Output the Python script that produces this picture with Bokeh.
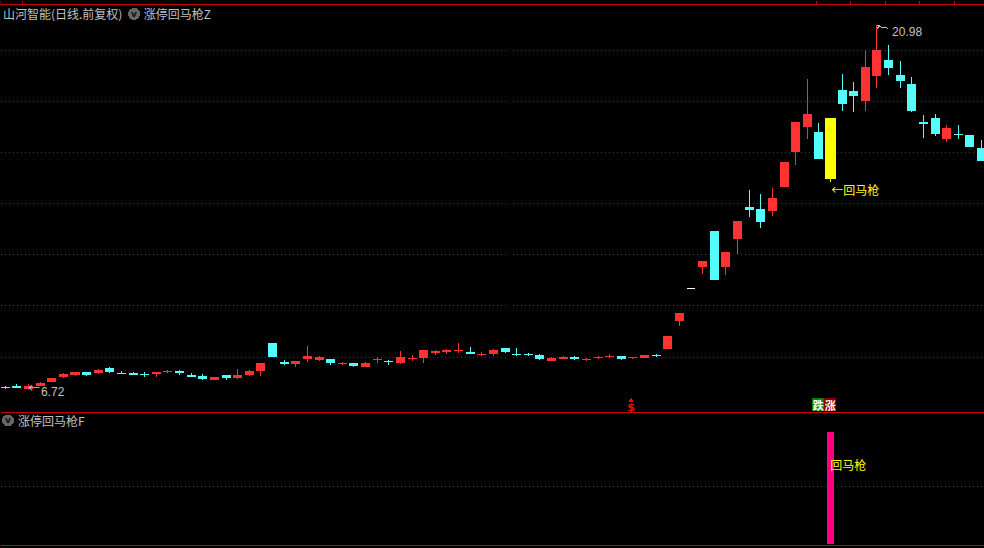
from bokeh.plotting import figure
from bokeh.layouts import column
from bokeh.models import Range1d, FixedTicker, ColumnDataSource
from bokeh.core.properties import value
from bokeh.embed import file_html
from bokeh.resources import INLINE

open_ = [6.83,6.87,6.75,6.87,7.02,7.22,7.30,7.41,7.37,7.57,7.37,7.37,7.34,7.34,7.41,7.45,7.30,7.26,7.10,7.30,
         7.18,7.30,7.45,8.55,7.80,7.73,7.92,7.88,7.92,7.73,7.77,7.61,7.88,7.84,7.77,7.92,7.96,8.16,8.20,8.23,
         8.20,8.08,8.12,8.35,8.12,8.12,8.08,7.84,7.92,8.00,7.88,7.96,8.00,8.04,7.96,7.96,8.08,8.31,9.41,10.70,
         11.52,12.93,11.52,12.61,13.86,13.79,13.71,14.64,16.01,16.99,16.79,17.34,18.44,18.40,18.01,18.98,19.61,19.02,18.67,17.19,
         17.34,16.52,16.72,16.68,16.17]
high = [6.87,6.94,6.94,7.02,7.18,7.37,7.41,7.41,7.53,7.61,7.45,7.41,7.41,7.41,7.49,7.49,7.37,7.34,7.22,7.30,
        7.53,7.49,7.77,8.55,7.88,7.84,8.43,8.04,7.92,7.80,7.77,7.80,8.00,7.88,8.23,8.08,8.27,8.27,8.31,8.55,
        8.39,8.20,8.31,8.35,8.35,8.16,8.12,8.00,8.04,8.04,7.96,8.04,8.12,8.04,8.00,8.08,8.12,8.82,9.72,10.70,
        11.75,12.93,12.10,13.32,14.53,14.37,14.61,15.62,17.19,18.87,17.15,17.34,19.06,18.75,20.00,20.98,20.20,19.57,18.94,17.46,
        17.50,17.07,17.07,16.68,16.48]
low = [6.75,6.79,6.72,6.87,7.02,7.18,7.26,7.26,7.34,7.37,7.34,7.30,7.22,7.22,7.37,7.30,7.22,7.10,7.10,7.10,
       7.14,7.26,7.26,8.00,7.69,7.61,7.80,7.84,7.69,7.69,7.61,7.61,7.77,7.69,7.73,7.84,7.77,8.08,8.12,8.16,
       8.12,8.04,8.04,8.16,8.04,8.04,7.88,7.84,7.92,7.88,7.84,7.92,7.96,7.88,7.92,7.96,8.00,8.31,9.21,10.70,
       11.24,11.01,11.21,12.03,13.47,13.04,13.51,14.64,15.50,16.52,15.74,14.84,17.62,17.58,17.62,18.51,19.02,18.51,17.58,16.56,
       16.64,16.40,16.52,16.21,15.66]
close = [6.79,6.79,6.87,6.98,7.18,7.34,7.41,7.30,7.49,7.41,7.34,7.30,7.30,7.41,7.45,7.37,7.22,7.14,7.22,7.18,
         7.30,7.45,7.77,8.00,7.73,7.84,8.04,8.00,7.77,7.77,7.65,7.77,7.92,7.80,8.00,7.96,8.27,8.23,8.27,8.27,
         8.12,8.12,8.27,8.20,8.10,8.08,7.92,7.96,8.00,7.92,7.92,8.00,8.04,7.92,8.00,8.08,8.04,8.82,9.72,10.70,
         11.75,11.01,12.10,13.32,13.75,13.28,14.21,15.62,17.19,17.50,15.74,14.96,17.89,18.20,19.34,20.00,19.30,18.79,17.62,17.11,
         16.72,16.95,16.68,16.21,15.66]
signal_index = 71
limit_up_index = 54
low_label = "6.72"
high_label = "20.98"
indicator_value = 1.0
price_ticks = [8, 10, 12, 14, 16, 18, 20]
date_ticks = [-0.4, 1.5, 69.77, 72.7, 75.7, 78.7, 81.7]

BLACK = "#000000"; RED = "#FF3232"; CYAN = "#54FCFC"; YELLOW = "#FFFF00"
RULE = "#C80000"; DOT = "#A00000"; PINK = "#FF0080"; GREY = "#C0C0C0"; ICON = "#666666"
CJK = value("Noto Sans CJK SC")
LATIN = value("Liberation Sans")
X0, X1 = -0.41, 84.25
TOP, BOTTOM = 21.935, 5.792


def is_red(i):
    return close[i] > open_[i]


idx = list(range(len(open_)))
colors = []
widths = []
for i in idx:
    if i == signal_index:
        colors.append(YELLOW); widths.append(0.95)
    elif open_[i] == close[i] == high[i] == low[i]:
        colors.append("#FFFFFF"); widths.append(0.69)
    elif is_red(i):
        colors.append(RED); widths.append(0.775)
    else:
        colors.append(CYAN); widths.append(0.775)

body_top = [max(o, c) for o, c in zip(open_, close)]
body_bot = [min(o, c) for o, c in zip(open_, close)]
body_bot = [b if t - b >= 0.039 else t - 0.039 for t, b in zip(body_top, body_bot)]
src = ColumnDataSource(dict(x=idx, o=open_, h=high, l=low, c=close, t=body_top, b=body_bot, col=colors, w=widths))


def base(height, y0, y1):
    f = figure(width=984, height=height, output_backend="svg", toolbar_location=None,
               x_range=Range1d(X0, X1), y_range=Range1d(y0, y1), min_border=0,
               background_fill_color=BLACK, border_fill_color=BLACK, outline_line_color=None,
               styles={"background-color": BLACK})
    f.xaxis.visible = False
    f.yaxis.visible = False
    f.xgrid.visible = False
    f.ygrid.grid_line_color = DOT
    f.ygrid.grid_line_dash = "1 3"
    f.ygrid.grid_line_width = 1
    return f


def label(f, x, y, text, color, size, bold=False, align="left", font=CJK):
    f.text([x], [y], text=[text], text_color=color, text_font_size=size, text_font=font,
           text_align=align, text_baseline="middle", text_font_style="bold" if bold else "normal")


def badge_icon(f, x, y):
    f.scatter([x], [y], size=12, marker="circle", fill_color=ICON, line_color=None)
    label(f, x, y, "v", "#111111", "9px", bold=True, align="center", font=value("DejaVu Sans"))


main = base(413, BOTTOM, TOP)
main.ygrid.ticker = FixedTicker(ticks=price_ticks)
main.segment(x0="x", y0="h", x1="x", y1="l", color="col", line_width=1, source=src)
main.vbar(x="x", width="w", top="t", bottom="b", fill_color="col", line_color=None, source=src)

# frame rules and date ticks
main.segment(x0=[X0], y0=[21.76], x1=[X1], y1=[21.76], color=RULE, line_width=1)
main.segment(x0=[X0], y0=[5.83], x1=[X1], y1=[5.83], color=RULE, line_width=1)
main.segment(x0=date_ticks, y0=[TOP] * len(date_ticks), x1=date_ticks, y1=[21.76] * len(date_ticks), color=RULE, line_width=1)

# headings
label(main, -0.2, 21.41, "山河智能(日线.前复权)", GREY, "12px")
badge_icon(main, 11.08, 21.41)
label(main, 11.92, 21.41, "涨停回马枪Z", GREY, "12px")

# extreme labels
label(main, 1.95, 6.79, "←", GREY, "12px")
label(main, 3.07, 6.67, low_label, GREY, "12px", font=LATIN)
hi = 75
hp = 20.98
main.line([hi, hi + 0.5, hi + 0.7, hi + 0.95], [hp, hp - 0.11, hp - 0.08, hp - 0.14], color=GREY, line_width=1)
main.line([hi, hi + 0.25], [hp - 0.16, hp], color=GREY, line_width=1)
label(main, 76.3, 20.74, high_label, GREY, "12px", font=LATIN)

# signal text and markers
label(main, 71.06, 14.53, "←回马枪", YELLOW, "12px")
main.rect([69.94, 70.97], [6.14, 6.14], width=1.03, height=0.508, fill_color=["#008000", "#800000"], line_color=None)
label(main, 69.94, 6.14, "跌", "#FFFFFF", "11px", bold=True, align="center")
label(main, 70.97, 6.14, "涨", "#FFFFFF", "11px", bold=True, align="center")
label(main, limit_up_index - 0.15, 6.03, "$", "#FF0000", "11px", bold=True, align="center", font=value("DejaVu Sans"))
main.scatter([limit_up_index - 0.15], [6.30], marker="triangle", size=5, fill_color="#FF0000", line_color=None)

sub = base(135, -0.040, 1.160)
sub.ygrid.ticker = FixedTicker(ticks=[0.51])
sub.vbar(x=[signal_index], width=0.6, top=[indicator_value], bottom=[0], fill_color=PINK, line_color=None)
sub.segment(x0=[X0], y0=[-0.009], x1=[X1], y1=[-0.009], color=RULE, line_width=1)
badge_icon(sub, 0.23, 1.098)
label(sub, 1.09, 1.098, "涨停回马枪F", GREY, "12px")
label(sub, 70.97, 0.707, "回马枪", YELLOW, "12px")

page = column(main, sub, spacing=0,
              styles={"position": "absolute", "left": "0px", "top": "0px", "shape-rendering": "crispEdges",
                      "background-color": BLACK})
open("out.html", "w").write(file_html(page, INLINE))
